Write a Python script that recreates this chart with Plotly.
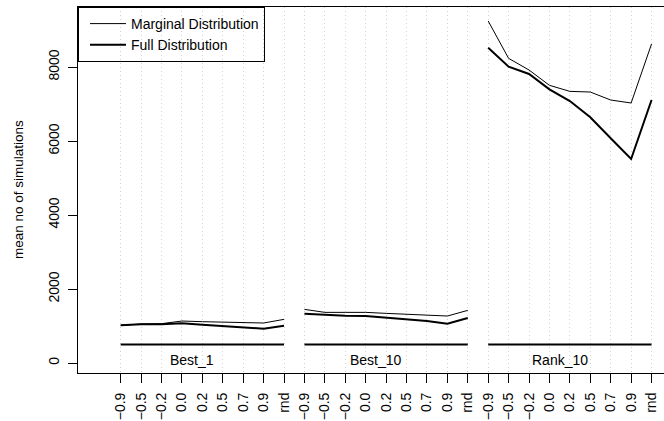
import plotly.graph_objects as go

# ---- data ----
groups = ["Best_1", "Best_10", "Rank_10"]
corr_labels = ["\u22120.9", "\u22120.5", "\u22120.2", "0.0", "0.2", "0.5", "0.7", "0.9", "rnd"]

marginal_best1 = [1018, 1054, 1063, 1135, 1117, 1099, 1081, 1081, 1180]
marginal_best10 = [1450, 1369, 1369, 1369, 1342, 1315, 1297, 1270, 1423]
marginal_rank10 = [9243, 8234, 7919, 7505, 7342, 7324, 7108, 7027, 8622]

full_best1 = [1018, 1045, 1045, 1072, 1036, 1000, 964, 928, 1009]
full_best10 = [1333, 1297, 1279, 1270, 1225, 1189, 1135, 1063, 1216]
full_rank10 = [8522, 8008, 7811, 7397, 7081, 6640, 6073, 5514, 7108]

baseline_value = 500
label_value = 70
y_ticks = [0, 2000, 4000, 6000, 8000]

# ---- build positions ----
n = len(corr_labels)
xs_groups = [list(range(g * n + 1, g * n + n + 1)) for g in range(len(groups))]


def joined(series_list):
    xx, yy = [], []
    for k, (xg, s) in enumerate(zip(xs_groups, series_list)):
        if k:
            xx.append(None)
            yy.append(None)
        xx += xg
        yy += s
    return xx, yy


mx, my = joined([marginal_best1, marginal_best10, marginal_rank10])
fx, fy = joined([full_best1, full_best10, full_rank10])
bx2, by2 = [], []
for k, xg in enumerate(xs_groups):
    if k:
        bx2.append(None)
        by2.append(None)
    bx2 += [xg[0], xg[-1]]
    by2 += [baseline_value, baseline_value]

tickvals = [x for xg in xs_groups for x in xg]
ticktext = corr_labels * len(groups)

FONT = "Liberation Sans, Arial, Helvetica, sans-serif"

fig = go.Figure()
fig.add_trace(go.Scatter(x=mx, y=my, mode="lines", name="Marginal Distribution",
                         line=dict(color="black", width=1), connectgaps=False))
fig.add_trace(go.Scatter(x=fx, y=fy, mode="lines", name="Full Distribution",
                         line=dict(color="black", width=2), connectgaps=False))
fig.add_trace(go.Scatter(x=bx2, y=by2, mode="lines", showlegend=False,
                         line=dict(color="black", width=2), connectgaps=False,
                         hoverinfo="skip"))

for g, xg in zip(groups, xs_groups):
    cx = sum(xg[:-1]) / len(xg[:-1])
    fig.add_annotation(x=cx, y=label_value, text=g, showarrow=False,
                       xanchor="center", yanchor="middle",
                       font=dict(size=14, color="black", family=FONT))

fig.add_annotation(xref="paper", yref="paper", x=0, y=0.5, xshift=-60,
                   text="mean no of simulations", textangle=-90, showarrow=False,
                   xanchor="center", yanchor="middle",
                   font=dict(size=13.5, color="black", family=FONT))

fig.update_layout(
    width=664, height=421,
    margin=dict(l=78, r=0, t=7, b=48),
    paper_bgcolor="white", plot_bgcolor="white",
    font=dict(family=FONT, size=14, color="black"),
    showlegend=True,
    legend=dict(x=0, y=1, xanchor="left", yanchor="top",
                bordercolor="black", borderwidth=1,
                bgcolor="rgba(0,0,0,0)",
                font=dict(size=14, color="black", family=FONT),
                tracegroupgap=0, indentation=6, itemwidth=36),
    xaxis=dict(range=[-1.09, 27.61], tickmode="array", tickvals=tickvals,
               ticktext=ticktext, tickangle=-90, ticks="outside", ticklen=9,
               tickcolor="black", tickwidth=1, showline=True, linecolor="black",
               linewidth=1, mirror=True, showgrid=True, gridcolor="#d3d3d3",
               griddash="1px,3px", gridwidth=1, zeroline=False,
               automargin=False, ticklabelstandoff=4,
               tickfont=dict(size=14, color="black", family=FONT)),
    yaxis=dict(range=[-270, 9622], tickmode="array", tickvals=y_ticks,
               tickangle=-90, ticks="outside", ticklen=9, tickcolor="black",
               tickwidth=1, showline=True, linecolor="black", linewidth=1,
               mirror=False, showgrid=False, zeroline=False, automargin=False,
               ticklabelstandoff=3,
               tickfont=dict(size=14, color="black", family=FONT)),
)

fig.write_html("out.html", config={"displayModeBar": False},
               post_script="document.body.style.margin='0';document.body.style.overflow='hidden';")
